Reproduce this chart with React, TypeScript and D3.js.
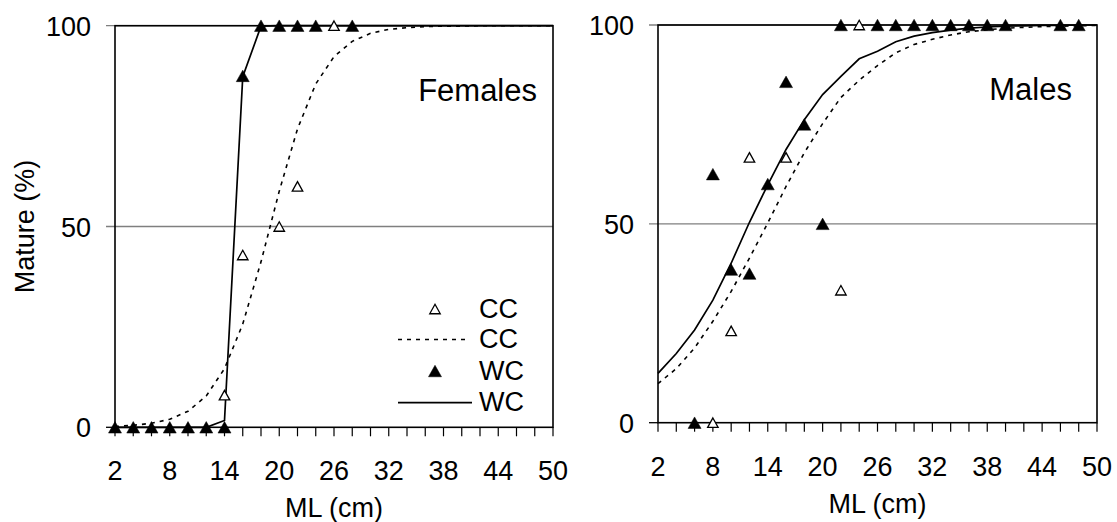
import React from "react";
import * as d3 from "d3";

// Mantle length classes (cm) at which the fitted maturity ogives are evaluated
const fitLengths = [2, 4, 6, 8, 10, 12, 14, 16, 18, 20, 22, 24, 26, 28, 30, 32, 34, 36, 38, 40, 42, 44, 46, 48, 50];

// Females: fitted ogives (% mature)
const femaleCCFit = [0.2, 0.5, 1.0, 2.0, 4.0, 7.8, 14.6, 25.7, 41.2, 58.8, 74.3, 85.5, 92.3, 96.1, 98.1, 99.1, 99.5, 99.8, 99.9, 99.9, 100, 100, 100, 100, 100];
const femaleWCFit = [0, 0, 0, 0, 0, 0, 1.7, 87.3, 99.9, 100, 100, 100, 100, 100, 100, 100, 100, 100, 100, 100, 100, 100, 100, 100, 100];

// Females: observed proportions mature
const femaleCCLengths = [14, 16, 20, 22, 26];
const femaleCCPct = [8.0, 42.9, 50, 60, 100];
const femaleWCLengths = [2, 4, 6, 8, 10, 12, 14, 16, 18, 20, 22, 24, 28];
const femaleWCPct = [0, 0, 0, 0, 0, 0, 0, 87.5, 100, 100, 100, 100, 100];

// Males: fitted ogives (% mature)
const maleCCFit = [9.8, 13.6, 18.8, 25.5, 33.0, 41.4, 50.2, 59.4, 67.9, 75.2, 81.8, 86.1, 89.8, 93.0, 95.1, 96.4, 97.5, 98.3, 98.8, 99.2, 99.4, 99.6, 99.7, 99.8, 99.9];
const maleWCFit = [12.4, 17.4, 23.3, 30.8, 40.1, 50.4, 59.8, 68.7, 76.2, 82.5, 87.1, 91.5, 93.4, 95.8, 97.2, 98.1, 98.7, 99.2, 99.5, 99.7, 99.8, 99.9, 99.9, 100, 100];

// Males: observed proportions mature
const maleCCLengths = [8, 10, 12, 16, 22, 24];
const maleCCPct = [0, 23.1, 66.7, 66.7, 33.3, 100];
const maleWCLengths = [6, 8, 10, 12, 14, 16, 18, 20, 22, 26, 28, 30, 32, 34, 36, 38, 40, 46, 48];
const maleWCPct = [0, 62.5, 38.5, 37.5, 60, 85.7, 75, 50, 100, 100, 100, 100, 100, 100, 100, 100, 100, 100, 100];

// Axis ticks
const xMinorTicks = d3.range(2, 51, 2);
const xLabelTicks = [2, 8, 14, 20, 26, 32, 38, 44, 50];
const yTicks = [0, 50, 100];

const legendItems = [
  { label: "CC", kind: "open" },
  { label: "CC", kind: "dash" },
  { label: "WC", kind: "filled" },
  { label: "WC", kind: "solid" },
];

const FONT = "'Liberation Sans', Arial, Helvetica, sans-serif";
const DASH = "4,5";

type Panel = {
  title: string;
  left: number;
  right: number;
  top: number;
  bottom: number;
  yLabelX: number;
  ccFit: number[];
  wcFit: number[];
  ccLen: number[];
  ccPct: number[];
  wcLen: number[];
  wcPct: number[];
  legend: boolean;
  showYTitle: boolean;
};

const panels: Panel[] = [
  {
    title: "Females",
    left: 115, right: 553, top: 25.7, bottom: 427.3, yLabelX: 91,
    ccFit: femaleCCFit, wcFit: femaleWCFit,
    ccLen: femaleCCLengths, ccPct: femaleCCPct,
    wcLen: femaleWCLengths, wcPct: femaleWCPct,
    legend: true, showYTitle: true,
  },
  {
    title: "Males",
    left: 658, right: 1097, top: 25, bottom: 422.7, yLabelX: 634,
    ccFit: maleCCFit, wcFit: maleWCFit,
    ccLen: maleCCLengths, ccPct: maleCCPct,
    wcLen: maleWCLengths, wcPct: maleWCPct,
    legend: false, showYTitle: false,
  },
];

function triangle(cx: number, cy: number, w: number, h: number) {
  return `M${cx},${cy - h / 2}L${cx + w / 2},${cy + h / 2}L${cx - w / 2},${cy + h / 2}Z`;
}

function OpenTri({ x, y }: { x: number; y: number }) {
  return <path d={triangle(x, y, 10.5, 9.5)} fill="#fff" stroke="#000" strokeWidth={1.3} />;
}

function FilledTri({ x, y }: { x: number; y: number }) {
  return <path d={triangle(x, y, 13, 11.5)} fill="#000" stroke="#000" strokeWidth={0.5} />;
}

function ChartPanel({ p }: { p: Panel }) {
  const x = d3.scaleLinear().domain([2, 50]).range([p.left, p.right]);
  const y = d3.scaleLinear().domain([0, 100]).range([p.bottom, p.top]);
  const line = d3
    .line<[number, number]>()
    .x((d) => x(d[0]))
    .y((d) => y(d[1]));
  const ccPts = fitLengths.map((l, i) => [l, p.ccFit[i]] as [number, number]);
  const wcPts = fitLengths.map((l, i) => [l, p.wcFit[i]] as [number, number]);

  const legendX0 = 398;
  const legendRowY = [309, 339.5, 371, 402.7];

  return (
    <g>
      {/* horizontal gridlines with their tick stubs */}
      {yTicks.map((t) => (
        <line
          key={`g${t}`}
          x1={p.left - 9}
          x2={t === 0 ? p.left : p.right}
          y1={y(t)}
          y2={y(t)}
          stroke={t === 0 ? "#000" : "#7f7f7f"}
          strokeWidth={1.3}
        />
      ))}
      {/* plot frame */}
      <rect
        x={p.left}
        y={p.top}
        width={p.right - p.left}
        height={p.bottom - p.top}
        fill="none"
        stroke="#000"
        strokeWidth={1.6}
      />
      {/* x ticks */}
      {xMinorTicks.map((t) => (
        <line key={`xt${t}`} x1={x(t)} x2={x(t)} y1={p.bottom} y2={p.bottom + 9} stroke="#000" strokeWidth={1.2} />
      ))}
      {xLabelTicks.map((t) => (
        <text
          key={`xl${t}`}
          x={x(t)}
          y={p.bottom + 53}
          textAnchor="middle"
          fontSize={27}
          fontFamily={FONT}
          fill="#000"
        >
          {t}
        </text>
      ))}
      {yTicks.map((t) => (
        <text
          key={`yl${t}`}
          x={p.yLabelX}
          y={y(t) + 10}
          textAnchor="end"
          fontSize={27}
          fontFamily={FONT}
          fill="#000"
        >
          {t}
        </text>
      ))}
      <text
        x={(p.left + p.right) / 2}
        y={p.bottom + 90}
        textAnchor="middle"
        fontSize={27}
        fontFamily={FONT}
        fill="#000"
      >
        ML (cm)
      </text>
      {p.showYTitle && (
        <text
          transform={`translate(34,${(p.top + p.bottom) / 2}) rotate(-90)`}
          textAnchor="middle"
          fontSize={27}
          fontFamily={FONT}
          fill="#000"
        >
          Mature (%)
        </text>
      )}
      <text
        x={p.title === "Females" ? 537 : 1072}
        y={p.top + 75}
        textAnchor="end"
        fontSize={31}
        fontFamily={FONT}
        fill="#000"
      >
        {p.title}
      </text>

      {/* fitted ogives */}
      <path d={line(ccPts) || ""} fill="none" stroke="#000" strokeWidth={1.6} strokeDasharray={DASH} />
      <path d={line(wcPts) || ""} fill="none" stroke="#000" strokeWidth={1.7} />

      {/* observed proportions */}
      {p.ccLen.map((l, i) => (
        <OpenTri key={`cc${i}`} x={x(l)} y={y(p.ccPct[i])} />
      ))}
      {p.wcLen.map((l, i) => (
        <FilledTri key={`wc${i}`} x={x(l)} y={y(p.wcPct[i])} />
      ))}

      {p.legend &&
        legendItems.map((item, i) => {
          const cy = legendRowY[i];
          return (
            <g key={`lg${i}`}>
              {item.kind === "open" && <OpenTri x={435} y={cy} />}
              {item.kind === "filled" && <FilledTri x={435} y={cy} />}
              {item.kind === "dash" && (
                <line x1={legendX0} x2={468} y1={cy} y2={cy} stroke="#000" strokeWidth={1.6} strokeDasharray={DASH} />
              )}
              {item.kind === "solid" && (
                <line x1={legendX0} x2={472} y1={cy} y2={cy} stroke="#000" strokeWidth={1.7} />
              )}
              <text x={479} y={cy + 8.5} fontSize={27} fontFamily={FONT} fill="#000">
                {item.label}
              </text>
            </g>
          );
        })}
    </g>
  );
}

export default function App() {
  return (
    <svg
      width={1117}
      height={522}
      viewBox="0 0 1117 522"
      style={{ position: "absolute", left: 0, top: 0, background: "#fff" }}
    >
      <rect x={0} y={0} width={1117} height={522} fill="#fff" />
      {panels.map((p) => (
        <ChartPanel key={p.title} p={p} />
      ))}
    </svg>
  );
}
